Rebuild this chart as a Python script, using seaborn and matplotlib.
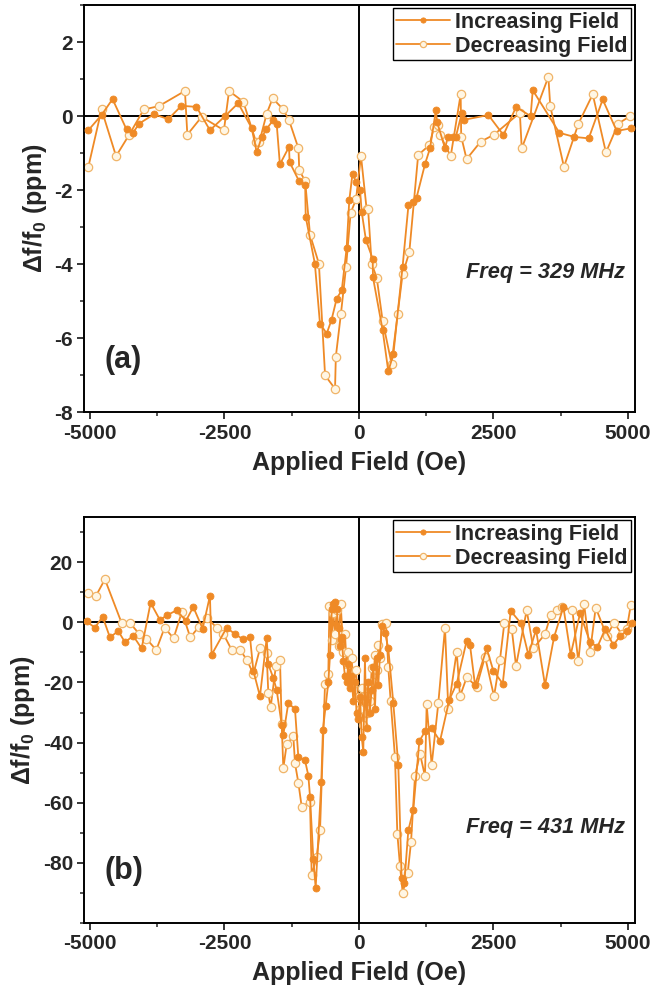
import numpy as np
import pandas as pd
import matplotlib
matplotlib.use("Agg")
import matplotlib.pyplot as plt
import seaborn as sns

# ---------------- data: panel (a), 329 MHz ----------------
x_inc_a = [-5030, -4785, -4580, -4320, -4200, -4085, -3810, -3545, -3300, -3020,
           -2770, -2490, -2245, -1995, -1900, -1810, -1720, -1590, -1530, -1470,
           -1300, -1290, -1115, -1000, -990, -820, -725, -600, -510, -415,
           -320, -230, -180, -120, -55, 20, 50, 130, 255, 260,
           440, 545, 640, 810, 920, 1010, 1070, 1230, 1320, 1430,
           1450, 1600, 1650, 1740, 1800, 1910, 1950, 2405, 2685, 2920,
           3190, 3230, 3725, 4000, 4270, 4530, 4790, 5050]
y_inc_a = [-0.38, 0.03, 0.46, -0.36, -0.45, -0.20, 0.05, -0.08, 0.28, 0.25,
           -0.38, 0.00, 0.35, -0.32, -0.98, -0.57, -0.35, -0.10, -0.20, -1.30,
           -0.83, -1.24, -1.75, -1.86, -2.72, -3.98, -5.60, -5.87, -5.50, -4.93,
           -4.70, -3.57, -2.27, -1.55, -1.78, -2.00, -2.58, -3.35, -3.85, -4.35,
           -5.78, -6.89, -6.42, -4.07, -2.40, -2.32, -2.20, -1.28, -0.87, 0.16,
           -0.15, -0.87, -0.57, -0.56, -0.56, 0.08, -0.10, 0.03, -0.51, 0.25,
           0.00, 0.70, -0.45, -0.56, -0.60, 0.45, -0.40, -0.33]

x_dec_a = [-5030, -4785, -4515, -4270, -4000, -3720, -3235, -3190, -2925, -2510,
           -2415, -2150, -1915, -1850, -1715, -1605, -1405, -1300, -1125, -1110,
           -1000, -910, -745, -630, -445, -430, -335, -240, -155, -55,
           37, 143, 170, 235, 330, 440, 605, 720, 810, 935,
           1100, 1310, 1395, 1460, 1510, 1705, 1890, 1900, 2000, 2260,
           2510, 2990, 3025, 3520, 3555, 3810, 4080, 4345, 4590, 4820,
           5040]
y_dec_a = [-1.37, 0.18, -1.08, -0.50, 0.18, 0.27, 0.68, -0.50, -0.02, -0.38,
           0.68, 0.39, -0.69, -0.69, 0.07, 0.48, 0.18, -0.11, -0.87, -1.45,
           -1.76, -3.20, -3.98, -7.00, -7.36, -6.49, -5.33, -4.07, -2.61, -2.25,
           -1.07, -2.52, -2.52, -3.98, -4.36, -5.53, -6.68, -5.33, -4.27, -3.68,
           -1.05, -0.78, -0.29, -0.25, -0.52, -1.08, 0.59, -0.55, -1.16, -0.69,
           -0.50, 0.09, -0.87, 1.06, 0.27, -1.37, -0.20, 0.59, -0.98, -0.20,
           0.00]

# ---------------- data: panel (b), 431 MHz ----------------
x_inc_b = [-5062, -4908, -4765, -4629, -4474, -4350, -4195, -4040, -3873, -3700,
           -3563, -3390, -3216, -3080, -2906, -2770, -2739, -2460, -2305, -2149,
           -2025, -1963, -1840, -1716, -1685, -1592, -1530, -1437, -1406, -1313,
           -1189, -1127, -1003, -941, -910, -848, -805, -700, -670, -619,
           -570, -538, -505, -476, -445, -415, -380, -350, -320, -290,
           -260, -230, -200, -170, -140, -105, -75, -45, -12, 20,
           50, 80, 111, 140, 170, 200, 236, 265, 297, 330,
           359, 390, 421, 483, 545, 638, 731, 793, 843, 917,
           1010, 1122, 1227, 1351, 1506, 1680, 1816, 2002, 2064, 2157,
           2374, 2497, 2672, 2820, 3005, 3148, 3291, 3458, 3625, 3799,
           3935, 4109, 4295, 4431, 4574, 4729, 4853, 4977, 5068]
y_inc_b = [0.3, -1.8, 1.9, -5.0, -2.9, -6.6, -4.5, -8.7, 6.5, 0.8,
           2.4, 4.0, 0.5, 5.1, -2.1, 8.8, -10.8, -1.8, -3.9, -5.7,
           -5.0, -16.1, -24.6, -5.3, -14.0, -18.5, -22.5, -34.0, -37.4, -26.8,
           -28.9, -44.8, -45.9, -51.0, -58.0, -78.8, -88.3, -53.0, -35.7, -27.8,
           -20.0, -10.8, 4.5, 6.2, 6.7, 4.5, -2.0, -8.0, -5.0, -13.0,
           -18.0, -20.0, -14.0, -22.0, -18.0, -26.0, -20.0, -30.0, -32.0, -25.0,
           -38.0, -43.0, -12.0, -35.0, -20.0, -30.0, -22.5, -15.0, -28.9, -12.0,
           -20.9, -10.8, -1.3, -3.4, -8.7, -26.8, -47.5, -85.1, -86.7, -69.2,
           -62.3, -39.5, -36.3, -35.2, -39.5, -25.7, -20.4, -6.1, -7.6, -20.9,
           -8.7, -16.1, -20.4, 3.8, -0.2, -10.8, -2.5, -20.9, -5.0, 5.1,
           -10.8, 3.0, -6.6, -8.2, -2.3, -7.6, -4.5, -2.9, -0.2]

x_dec_b = [-5031, -4889, -4722, -4412, -4257, -4083, -3950, -3768, -3613, -3446,
           -3291, -3136, -2980, -2818, -2644, -2520, -2365, -2210, -2086, -1963,
           -1840, -1716, -1685, -1642, -1545, -1468, -1437, -1406, -1344, -1220,
           -1189, -1127, -1065, -910, -879, -786, -724, -631, -570, -549,
           -510, -476, -445, -415, -380, -340, -290, -260, -229, -200,
           -167, -135, -105, -60, -12, 20, 50, 80, 112, 145,
           174, 205, 236, 265, 297, 330, 359, 390, 421, 502,
           545, 589, 669, 713, 762, 812, 905, 967, 1041, 1134,
           1227, 1258, 1351, 1475, 1599, 1660, 1816, 1878, 2002, 2188,
           2343, 2510, 2621, 2702, 2840, 2919, 3117, 3241, 3458, 3563,
           3675, 3768, 3966, 4077, 4183, 4295, 4400, 4605, 4741, 4884,
           4977, 5050]
y_dec_b = [9.9, 8.8, 14.3, -0.2, -0.2, -3.9, -5.5, -9.2, -1.8, -5.3,
           3.5, -5.0, -1.6, 1.4, -1.8, -3.9, -9.2, -9.2, -12.4, -17.2,
           -8.7, -10.3, -23.6, -28.3, -14.6, -12.4, -33.7, -48.5, -40.6, -37.9,
           -46.9, -53.3, -61.3, -59.7, -84.0, -78.2, -69.2, -20.4, -17.2, 5.3,
           -6.0, 3.0, -4.0, 4.0, -8.0, 6.2, -9.8, -4.0, -14.0, -10.0,
           -18.7, -12.0, -20.4, -16.0, -25.0, -28.7, -22.0, -34.2, -24.6, -30.0,
           -20.4, -26.0, -15.3, -20.0, -10.8, -16.0, -7.6, -12.0, -0.7, -0.2,
           -15.0, -26.2, -44.8, -70.3, -80.9, -89.9, -83.5, -73.2, -51.2, -43.7,
           -51.2, -27.3, -47.5, -26.8, -1.8, -28.9, -9.8, -24.6, -18.3, -21.4,
           -11.4, -24.6, -12.4, -0.2, -2.3, -14.5, 4.0, -8.7, -3.9, 2.4,
           4.0, 5.1, 4.0, -13.0, 6.2, -9.8, 4.9, -4.5, -0.2, -3.9,
           -2.3, 5.6]

panels = [
    dict(xi=x_inc_a, yi=y_inc_a, xd=x_dec_a, yd=y_dec_a, ylim=(-8, 3),
         yticks=[-8, -6, -4, -2, 0, 2], yminor=1, tag="(a)", freq="Freq = 329 MHz",
         freq_y=0.344),
    dict(xi=x_inc_b, yi=y_inc_b, xd=x_dec_b, yd=y_dec_b, ylim=(-95, 35),
         yticks=[-80, -60, -40, -20, 0, 20], yminor=10, tag="(b)", freq="Freq = 431 MHz",
         freq_y=0.236),
]

sns.set_theme(style="ticks")
plt.rcParams["font.family"] = ["Liberation Sans", "DejaVu Sans"]
plt.rcParams["font.weight"] = "bold"
plt.rcParams["axes.unicode_minus"] = False
plt.rcParams["mathtext.fontset"] = "custom"
plt.rcParams["mathtext.rm"] = "Liberation Sans:bold"
plt.rcParams["mathtext.it"] = "Liberation Sans:bold"
plt.rcParams["mathtext.bf"] = "Liberation Sans:bold"

ORANGE = "#EF8A26"
OPEN_EDGE = "#F0B468"
OPEN_FACE = "#FFF6E4"

fig = plt.figure(figsize=(6.67, 10.06), dpi=100)
ax_rects = [[0.126, 0.590, 0.826, 0.405], [0.126, 0.0825, 0.826, 0.4035]]

for rect, p in zip(ax_rects, panels):
    ax = fig.add_axes(rect)
    ax.axhline(0, color="black", lw=1.4, zorder=1)
    ax.axvline(0, color="black", lw=1.4, zorder=1)
    dfi = pd.DataFrame({"H": p["xi"], "df": p["yi"]})
    dfd = pd.DataFrame({"H": p["xd"], "df": p["yd"]})
    sns.lineplot(data=dfi, x="H", y="df", ax=ax, estimator=None, sort=True,
                 color=ORANGE, lw=1.3, marker="o", markersize=5,
                 markerfacecolor=ORANGE, markeredgecolor=ORANGE, markeredgewidth=0.6,
                 label="Increasing Field", zorder=3)
    sns.lineplot(data=dfd, x="H", y="df", ax=ax, estimator=None, sort=True,
                 color=ORANGE, lw=1.3, marker="o", markersize=6,
                 markerfacecolor=OPEN_FACE, markeredgecolor=OPEN_EDGE, markeredgewidth=0.9,
                 label="Decreasing Field", zorder=2)
    ax.set_xlim(-5110, 5130)
    ax.set_ylim(*p["ylim"])
    ax.set_xticks([-5000, -2500, 0, 2500, 5000])
    ax.set_xticks([-3750, -1250, 1250, 3750], minor=True)
    ax.set_yticks(p["yticks"])
    yt = np.arange(p["ylim"][0] - p["ylim"][0] % p["yminor"], p["ylim"][1] + 0.01, p["yminor"])
    ax.set_yticks([v for v in yt if v not in p["yticks"]], minor=True)
    ax.tick_params(which="major", direction="out", length=5, width=1.3, labelsize=15,
                   pad=3, top=False, right=False)
    ax.tick_params(which="minor", direction="out", length=3, width=1.1, top=False, right=False)
    for lab in ax.get_xticklabels() + ax.get_yticklabels():
        lab.set_fontweight("bold")
    for s in ax.spines.values():
        s.set_visible(True)
        s.set_linewidth(1.4)
        s.set_color("black")
    ax.set_xlabel("Applied Field (Oe)", fontsize=18, fontweight="bold", labelpad=6)
    ax.set_ylabel(r"$\Delta$f/f$_0$ (ppm)", fontsize=18, fontweight="bold", labelpad=4)
    ax.text(0.038, 0.128, p["tag"], transform=ax.transAxes, fontsize=22,
            fontweight="bold", ha="left", va="center")
    ax.text(0.982, p["freq_y"], p["freq"], transform=ax.transAxes, fontsize=15.7,
            fontweight="bold", style="italic", ha="right", va="center")
    leg = ax.legend(loc="upper right", bbox_to_anchor=(0.993, 0.992), fontsize=15.5,
                    frameon=True, fancybox=False, edgecolor="black", framealpha=1,
                    handlelength=2.5, handletextpad=0.25, borderpad=0.15,
                    labelspacing=0.15, borderaxespad=0, markerscale=0.75)
    leg.get_frame().set_linewidth(1.0)
    for t in leg.get_texts():
        t.set_fontweight("bold")

fig.savefig("out.png", dpi=100)
